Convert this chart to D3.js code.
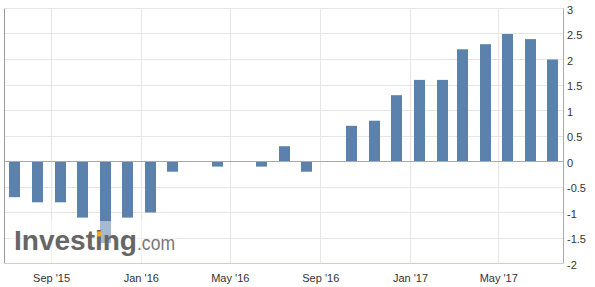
<!DOCTYPE html>
<html lang="en">
<head>
    <meta charset="UTF-8">
    <title>Monthly bars</title>
    <script src="https://d3js.org/d3.v7.min.js"></script>
    <style>
        body { margin: 0; background: white; }
        text { font-family: Arial, "Liberation Sans", sans-serif; }
    </style>
</head>
<body>
    <div id="chart"></div>
    <script>
        const width = 595;
        const height = 287;

        // data (one bar per month, Jul 2015 .. Jul 2017)
        const months = ["2015-07", "2015-08", "2015-09", "2015-10", "2015-11", "2015-12",
                        "2016-01", "2016-02", "2016-03", "2016-04", "2016-05", "2016-06",
                        "2016-07", "2016-08", "2016-09", "2016-10", "2016-11", "2016-12",
                        "2017-01", "2017-02", "2017-03", "2017-04", "2017-05", "2017-06", "2017-07"];
        const values = [-0.7, -0.8, -0.8, -1.1, -1.6, -1.1,
                        -1.0, -0.2, 0, -0.1, 0, -0.1,
                        0.3, -0.2, 0, 0.7, 0.8, 1.3,
                        1.6, 1.6, 2.2, 2.3, 2.5, 2.4, 2.0];
        const tickDates = ["2015-09-01", "2016-01-01", "2016-05-01", "2016-09-01", "2017-01-01", "2017-05-01"];
        const tickLabels = ["Sep '15", "Jan '16", "May '16", "Sep '16", "Jan '17", "May '17"];
        const yTicks = [3, 2.5, 2, 1.5, 1, 0.5, 0, -0.5, -1, -1.5, -2];

        const parse = d3.utcParse("%Y-%m-%d");
        const data = months.map((m, i) => ({ date: parse(m + "-13"), value: values[i] }));

        const plotLeft = 4.5, plotRight = 563.5, plotTop = 8.5, plotBottom = 263.5;

        const x = d3.scaleUtc()
            .domain([parse("2015-06-29"), parse("2017-07-28")])
            .range([plotLeft, plotRight]);

        const y = d3.scaleLinear()
            .domain([-2, 3])
            .range([plotBottom, plotTop]);

        const svg = d3.select("#chart").append("svg")
            .attr("width", width)
            .attr("height", height);

        const snap = v => Math.round(v - 0.5) + 0.5;

        // horizontal grid
        svg.selectAll(".hgrid")
            .data(yTicks)
            .enter().append("line")
            .attr("x1", plotLeft).attr("x2", plotRight)
            .attr("y1", d => snap(y(d))).attr("y2", d => snap(y(d)))
            .attr("stroke", "#e6e6e6");

        // vertical grid
        svg.selectAll(".vgrid")
            .data(tickDates)
            .enter().append("line")
            .attr("x1", d => snap(x(parse(d)))).attr("x2", d => snap(x(parse(d))))
            .attr("y1", plotTop).attr("y2", plotBottom)
            .attr("stroke", "#e6e6e6");

        // bars
        const barW = 11;
        svg.selectAll(".bar")
            .data(data.filter(d => d.value !== 0))
            .enter().append("rect")
            .attr("x", d => Math.round(x(d.date) - barW / 2))
            .attr("width", barW)
            .attr("y", d => y(Math.max(0, d.value)))
            .attr("height", d => Math.abs(y(d.value) - y(0)))
            .attr("fill", "#5b81ad");

        // zero line
        svg.append("line")
            .attr("x1", plotLeft).attr("x2", plotRight)
            .attr("y1", snap(y(0))).attr("y2", snap(y(0)))
            .attr("stroke", "#a8a8a8");

        // axis lines
        svg.append("line")
            .attr("x1", plotLeft).attr("x2", plotLeft)
            .attr("y1", plotTop).attr("y2", plotBottom)
            .attr("stroke", "#999");
        svg.append("line")
            .attr("x1", plotRight).attr("x2", plotRight)
            .attr("y1", plotTop).attr("y2", plotBottom)
            .attr("stroke", "#aaa");
        svg.append("line")
            .attr("x1", plotLeft).attr("x2", plotRight)
            .attr("y1", plotBottom).attr("y2", plotBottom)
            .attr("stroke", "#c8d0db");

        // right axis labels
        svg.selectAll(".ylab")
            .data(yTicks)
            .enter().append("text")
            .attr("x", 567)
            .attr("y", d => y(d) + 5)
            .attr("font-size", 11)
            .attr("fill", "#333")
            .text(d => d);

        // bottom labels
        svg.selectAll(".xlab")
            .data(tickDates)
            .enter().append("text")
            .attr("x", d => x(parse(d)))
            .attr("y", 282)
            .attr("text-anchor", "middle")
            .attr("font-size", 11)
            .attr("fill", "#333")
            .text((d, i) => tickLabels[i]);

        // watermark
        const wm = svg.append("g");
        wm.append("rect")
            .attr("x", 10).attr("y", 221)
            .attr("width", 168).attr("height", 41)
            .attr("fill", "white")
            .attr("opacity", 0.45);
        wm.append("text")
            .attr("x", 14).attr("y", 250)
            .attr("font-size", 27)
            .attr("font-weight", "bold")
            .attr("textLength", 123)
            .attr("lengthAdjust", "spacingAndGlyphs")
            .attr("fill", "#666")
            .text("Investing");
        wm.append("text")
            .attr("x", 137).attr("y", 250)
            .attr("font-size", 21)
            .attr("textLength", 38)
            .attr("lengthAdjust", "spacingAndGlyphs")
            .attr("fill", "#777")
            .text(".com");
        wm.append("rect")
            .attr("x", 97).attr("y", 231.5)
            .attr("width", 4).attr("height", 5)
            .attr("fill", "#f5a623");
    </script>
</body>
</html>
